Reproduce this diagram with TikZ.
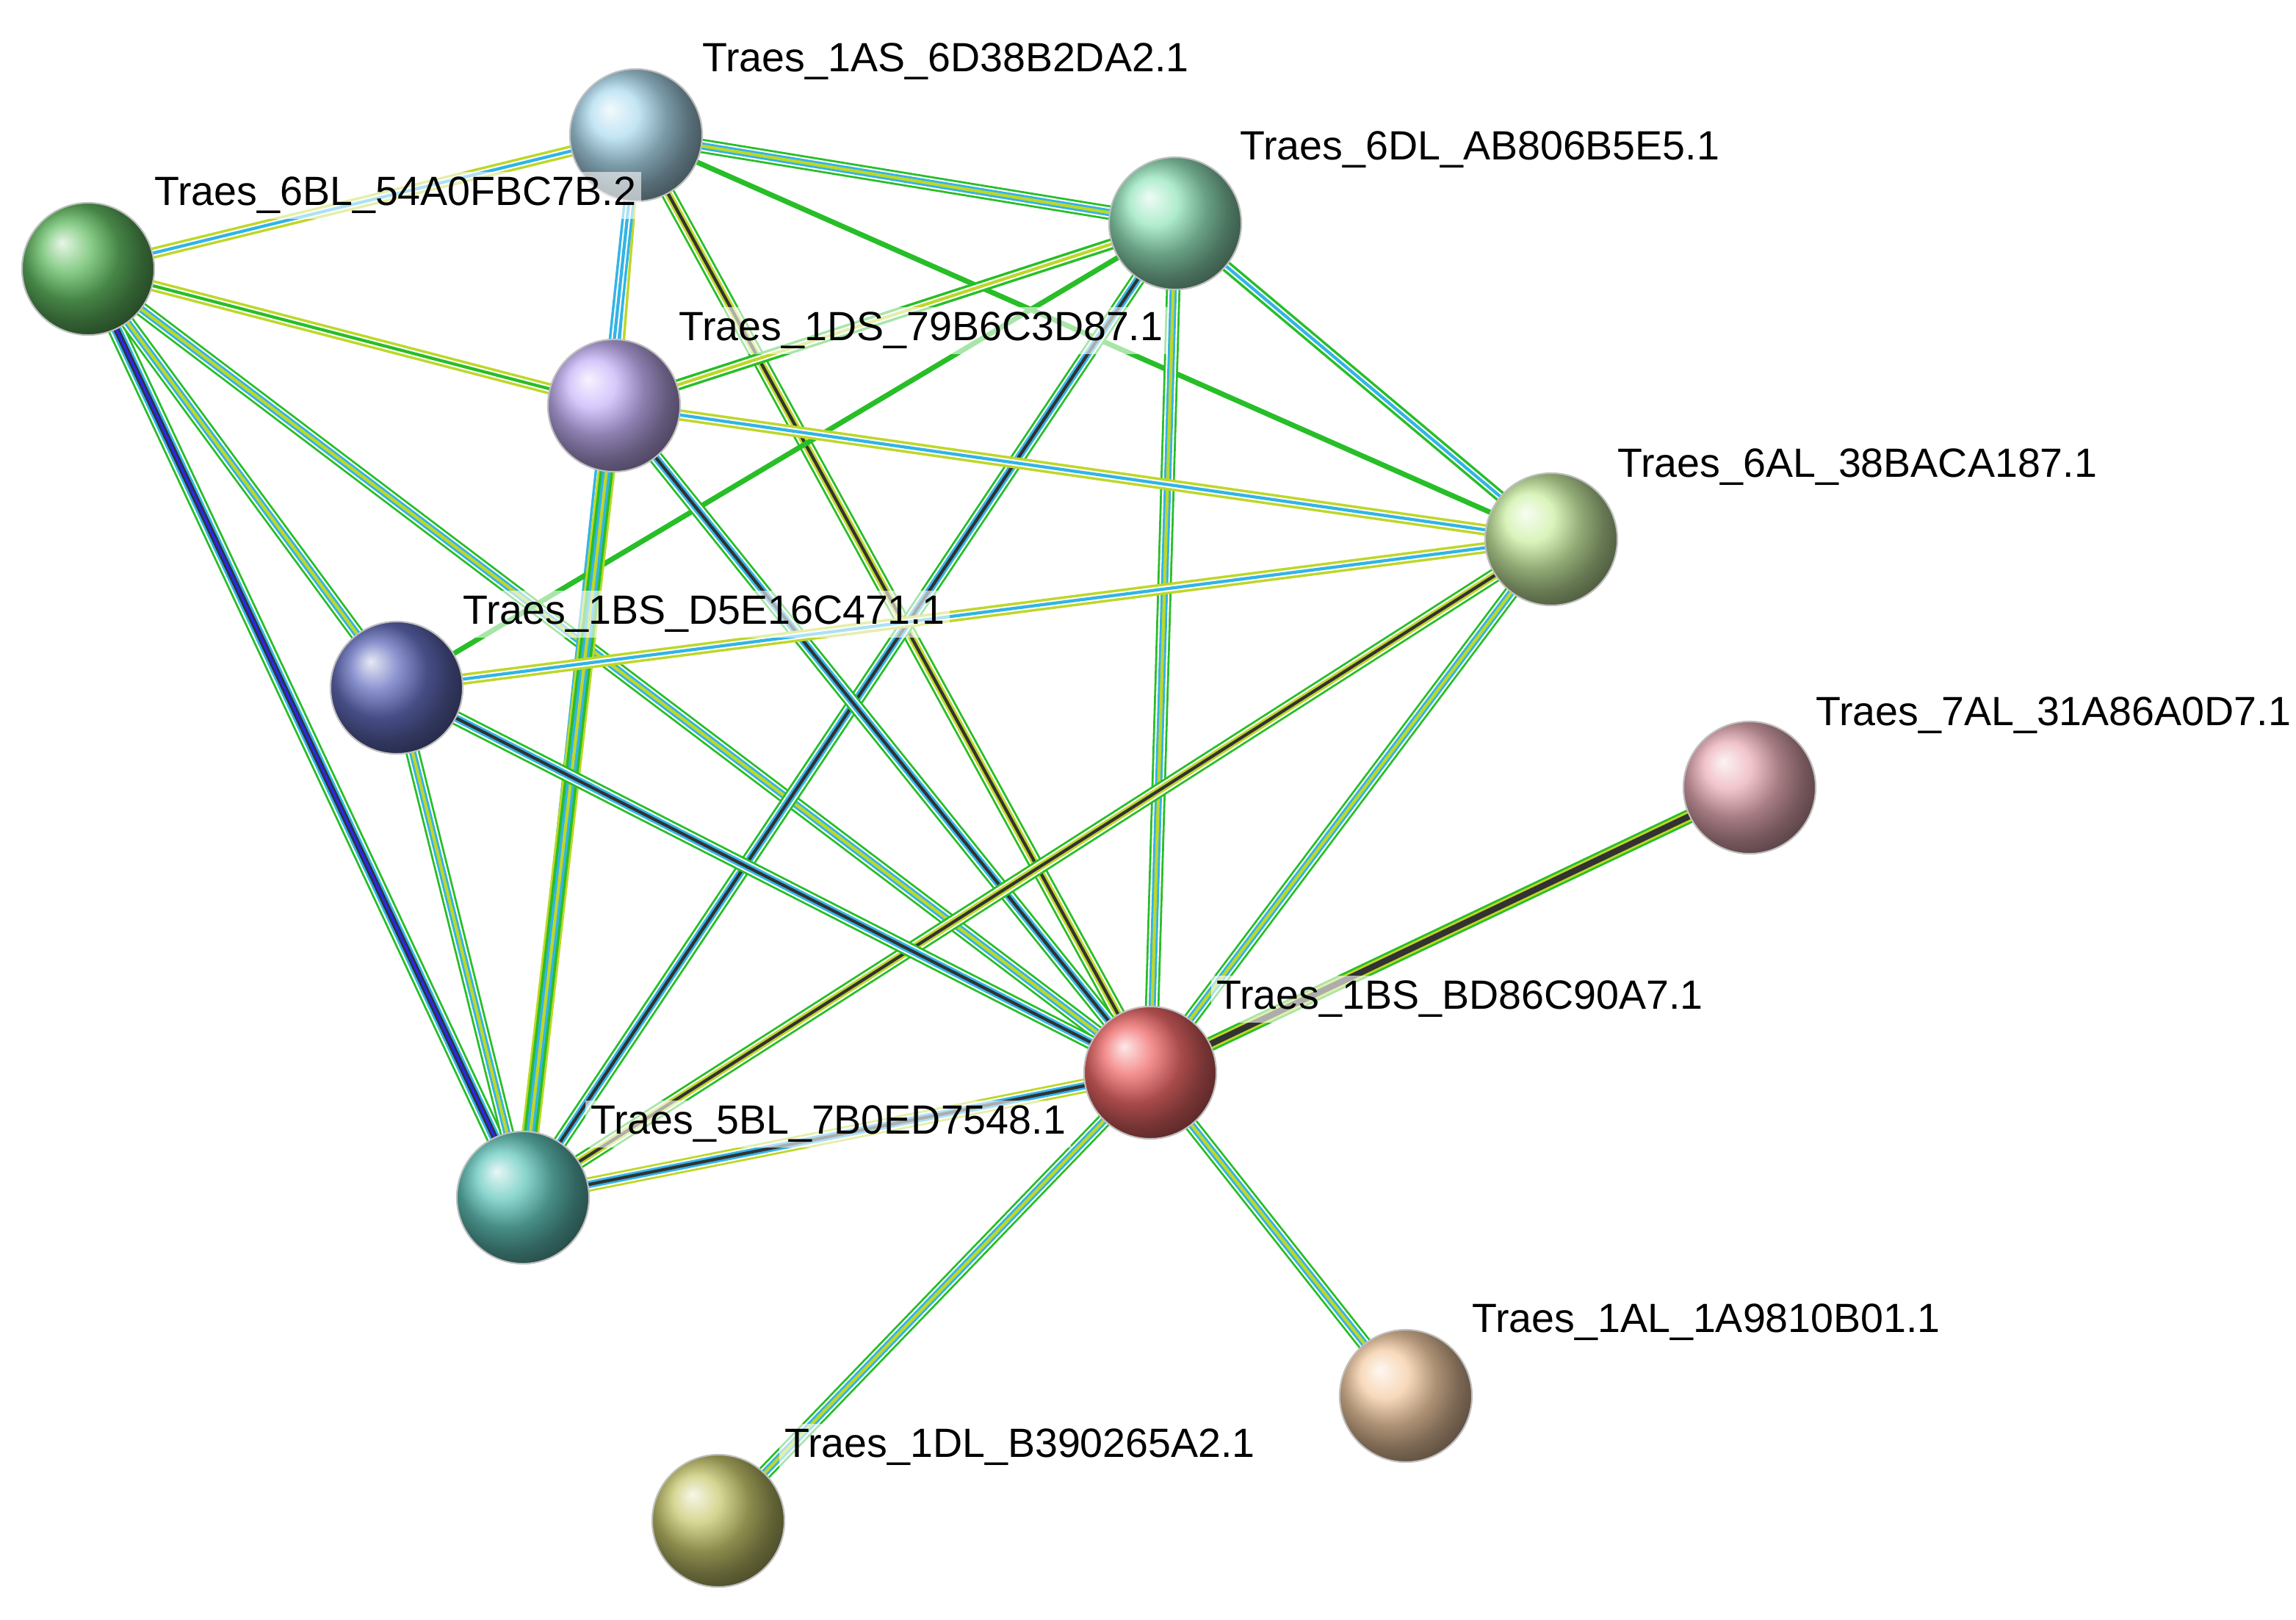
\documentclass[tikz,border=0pt]{standalone}
\usepackage{fontspec}
\setmainfont{Liberation Sans}
\definecolor{yg}{RGB}{190,215,40}\definecolor{gr}{RGB}{40,190,40}\definecolor{cy}{RGB}{50,180,230}
\definecolor{bk}{RGB}{50,50,50}\definecolor{bl}{RGB}{40,40,230}
\definecolor{cAS}{RGB}{175,220,240}\definecolor{cDLsix}{RGB}{150,230,190}\definecolor{cBLsix}{RGB}{100,190,100}
\definecolor{cDS}{RGB}{200,180,250}\definecolor{cALsix}{RGB}{205,240,165}\definecolor{cDfive}{RGB}{100,110,190}
\definecolor{cALseven}{RGB}{235,175,185}\definecolor{cBD}{RGB}{240,105,105}\definecolor{cBLfive}{RGB}{100,200,190}
\definecolor{cALone}{RGB}{245,205,165}\definecolor{cDLone}{RGB}{200,200,110}
\begin{document}
\begin{tikzpicture}[x=0.01cm,y=-0.01cm,
 ball/.style={circle,minimum size=0.9cm,inner sep=0pt,shading=ball,ball color=#1,draw=black!25,line width=0.3pt},
 lab/.style={anchor=west,inner sep=1pt,fill=white,fill opacity=0.6,text opacity=1,font=\fontsize{7.9}{10}\selectfont}]
\useasboundingbox (0,0) rectangle (1563,1102);
\coordinate (AS) at (433,92); \coordinate (DL6) at (800,152); \coordinate (BL6) at (60,183);
\coordinate (DS) at (418,276); \coordinate (AL6) at (1056,367); \coordinate (D5) at (270,468);
\coordinate (AL7) at (1191,536); \coordinate (BD) at (783,730); \coordinate (BL5) at (356,815);
\coordinate (AL1) at (957,950); \coordinate (DL1) at (489,1035);
\newcommand\ed[3]{\foreach \w/\c in {#3}{\draw[line width=\w pt,\c] (#1)--(#2);}}
\ed{BL6}{AS}{2.2/yg,1.2/white,0.6/cy}
\ed{BL6}{DS}{2.2/yg,1.2/white,0.6/gr}
\ed{BL6}{BL5}{3.4/gr,2.6/white,2.0/cy,1.2/bk,0.5/bl}
\ed{BL6}{D5}{2.8/gr,2.0/white,1.4/cy,0.6/yg}
\ed{BL6}{BD}{2.8/gr,2.0/white,1.4/cy,0.6/yg}
\ed{AS}{DL6}{2.8/gr,2.0/white,1.4/cy,0.6/yg}
\ed{AS}{DS}{2.2/yg,1.2/white,0.6/cy}
\ed{AS}{BD}{2.8/gr,2.0/white,1.4/yg,0.6/bk}
\ed{AS}{BL5}{2.2/cy,1.2/white,0.6/cy}
\ed{AS}{AL6}{1.0/gr}
\ed{DL6}{DS}{2.2/gr,1.2/white,0.6/yg}
\ed{DL6}{D5}{1.0/gr}
\ed{DL6}{BL5}{2.8/gr,2.0/white,1.4/cy,0.6/bk}
\ed{DL6}{BD}{2.8/gr,2.0/white,1.4/cy,0.6/yg}
\ed{DL6}{AL6}{2.2/gr,1.2/white,0.6/cy}
\ed{DS}{AL6}{2.2/yg,1.2/white,0.6/cy}
\ed{DS}{BL5}{3.4/yg,2.6/gr,1.6/cy,0.6/yg}
\ed{DS}{BD}{2.8/gr,2.0/white,1.4/cy,0.6/bk}
\ed{AL6}{D5}{2.2/yg,1.2/white,0.6/cy}
\ed{AL6}{BL5}{2.8/gr,2.0/white,1.4/yg,0.6/bk}
\ed{AL6}{BD}{2.8/gr,2.0/white,1.4/cy,0.6/yg}
\ed{D5}{BL5}{2.8/gr,2.0/white,1.4/cy,0.6/yg}
\ed{D5}{BD}{2.8/gr,2.0/white,1.4/cy,0.6/bk}
\ed{AL7}{BD}{2.8/gr,2.0/yg,1.2/bk}
\ed{BD}{BL5}{2.8/yg,2.0/white,1.4/cy,0.6/bk}
\ed{BD}{AL1}{2.8/gr,2.0/white,1.4/cy,0.6/yg}
\ed{BD}{DL1}{2.8/gr,2.0/white,1.4/cy,0.6/yg}
\node[ball=cAS] (nAS) at (AS) {};
\node[ball=cDLsix] (nDL6) at (DL6) {};
\node[ball=cBLsix] (nBL6) at (BL6) {};
\node[ball=cDS] (nDS) at (DS) {};
\node[ball=cALsix] (nAL6) at (AL6) {};
\node[ball=cDfive] (nD5) at (D5) {};
\node[ball=cALseven] (nAL7) at (AL7) {};
\node[ball=cBD] (nBD) at (BD) {};
\node[ball=cBLfive] (nBL5) at (BL5) {};
\node[ball=cALone] (nAL1) at (AL1) {};
\node[ball=cDLone] (nDL1) at (DL1) {};
\node[lab] (tAS) at (474,42) {Traes\_1AS\_6D38B2DA2.1};
\node[lab] (tDL6) at (840,102) {Traes\_6DL\_AB806B5E5.1};
\node[lab] (tBL6) at (101,133) {Traes\_6BL\_54A0FBC7B.2};
\node[lab] (tDS) at (458,225) {Traes\_1DS\_79B6C3D87.1};
\node[lab] (tAL6) at (1097,318) {Traes\_6AL\_38BACA187.1};
\node[lab] (tD5) at (311,418) {Traes\_1BS\_D5E16C471.1};
\node[lab] (tAL7) at (1232,487) {Traes\_7AL\_31A86A0D7.1};
\node[lab] (tBD) at (824,680) {Traes\_1BS\_BD86C90A7.1};
\node[lab] (tBL5) at (398,765) {Traes\_5BL\_7B0ED7548.1};
\node[lab] (tAL1) at (998,900) {Traes\_1AL\_1A9810B01.1};
\node[lab] (tDL1) at (530,985) {Traes\_1DL\_B390265A2.1};
\end{tikzpicture}
\end{document}
